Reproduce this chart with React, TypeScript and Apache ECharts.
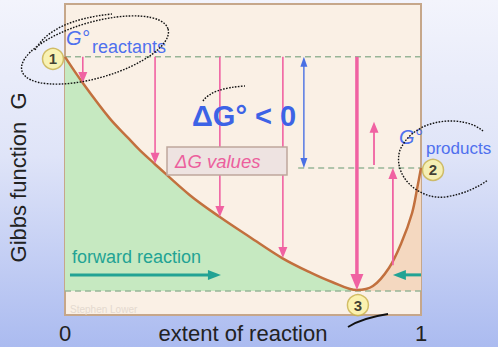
import React, { useEffect, useRef } from "react";
import * as echarts from "echarts";

const FONT = "'Liberation Sans', Arial, Helvetica, sans-serif";

// Gibbs function along the reaction path (extent 0 = pure reactants, 1 = pure products)
const extent = [0, 0.05, 0.125, 0.175, 0.21, 0.25, 0.35, 0.435, 0.52, 0.61, 0.69, 0.75, 0.82, 0.865, 0.91, 0.945, 0.975, 0.99, 1];
const gibbs = [83, 74.6, 63.3, 57.2, 53.0, 48.8, 38.6, 31.5, 25.0, 18.3, 13.6, 10.6, 8.0, 9.3, 15.1, 23.2, 32.8, 41.2, 47.3];
const equilibriumIndex = 12;

const gReactants = 83;
const gProducts = 47.3;
const gBaseline = 7.7;
const productsLineStart = 0.655;

// ΔG values: drops from G°reactants to the curve
const dgArrowX = [0.05, 0.253, 0.435, 0.612];
const dgArrowEnd = [74.6, 48.6, 31.5, 18.3];
const eqArrowX = 0.82;
const eqArrowEnd = 8.0;

// rises from the curve towards G°products
const upArrowX = [0.868, 0.921];
const upArrowFrom = [48.2, 16.0];
const upArrowTo = [62.1, 47.3];

// ΔG° span
const dg0ArrowX = 0.671;

// direction of spontaneous change
const flowG = 12.9;
const forwardFrom = 0.014;
const forwardTo = 0.438;
const reverseFrom = 1.0;
const reverseTo = 0.921;

// numbered states: pure reactants, pure products, equilibrium
const stateLabels = ["1", "2", "3"];
const stateX = [0, 1, 0.82];
const stateG = [83, 47.3, 8.0];

const xTickValues = [0, 1];

// hand-drawn pen marks
echarts.graphic.registerShape(
  "penLoopReactants",
  echarts.graphic.extendPath(
    "M168.06 29.05 C172.32 43.92 143.07 65.35 102.72 76.92 C62.37 88.49 26.2 85.82 21.94 70.95 C17.68 56.08 46.93 34.65 87.28 23.08 C127.63 11.51 163.8 14.18 168.06 29.05 M35 50 Q52 20 112 14",
    {}
  )
);
echarts.graphic.registerShape(
  "penLoopProducts",
  echarts.graphic.extendPath(
    "M483 131 C465 115 415 116 400 150 C392 175 418 200 445 197 C465 194 478 187 488 180",
    {}
  )
);
echarts.graphic.registerShape("penTickDG", echarts.graphic.extendPath("M203 101 Q212 88 245 86", {}));
echarts.graphic.registerShape("penTickEq", echarts.graphic.extendPath("M348 327 Q362 318 388 314", {}));

type ArrowOpts = { color: string; width: number; head: [number, number]; both?: boolean };

function arrowRenderer(opts: ArrowOpts) {
  return (_params: any, api: any) => {
    const p1 = api.coord([api.value(0), api.value(1)]);
    const p2 = api.coord([api.value(2), api.value(3)]);
    const dx = p2[0] - p1[0];
    const dy = p2[1] - p1[1];
    const len = Math.hypot(dx, dy) || 1;
    const ux = dx / len;
    const uy = dy / len;
    const nx = -uy;
    const ny = ux;
    const [hl, hw] = opts.head;
    const head = (tip: number[], dx1: number, dy1: number) => ({
      type: "polygon",
      shape: {
        points: [
          [tip[0], tip[1]],
          [tip[0] - dx1 * hl + (nx * hw) / 2, tip[1] - dy1 * hl + (ny * hw) / 2],
          [tip[0] - dx1 * hl - (nx * hw) / 2, tip[1] - dy1 * hl - (ny * hw) / 2],
        ],
      },
      style: { fill: opts.color },
    });
    const start = opts.both ? [p1[0] + ux * hl * 0.8, p1[1] + uy * hl * 0.8] : p1;
    const end = [p2[0] - ux * hl * 0.8, p2[1] - uy * hl * 0.8];
    const children: any[] = [
      {
        type: "line",
        shape: { x1: start[0], y1: start[1], x2: end[0], y2: end[1] },
        style: { stroke: opts.color, lineWidth: opts.width },
      },
      head(p2, ux, uy),
    ];
    if (opts.both) children.push(head(p1, -ux, -uy));
    return { type: "group", children };
  };
}

const PINK = "#f062a2";
const TEAL = "#22a394";
const BLUE = "#3d63e6";

export default function App() {
  const ref = useRef<HTMLDivElement>(null);

  useEffect(() => {
    if (!ref.current) return;
    const chart = echarts.init(ref.current, undefined, { renderer: "svg" });

    const curve = extent.map((x, i) => [x, gibbs[i]]);
    const leftPart = curve.slice(0, equilibriumIndex + 1);
    const rightPart = curve.slice(equilibriumIndex);

    const dashed = (name: string, data: number[][]) => ({
      name,
      type: "line",
      data,
      showSymbol: false,
      silent: true,
      z: 3,
      lineStyle: { color: "#98b598", width: 1.5, type: [6, 4] },
    });

    const arrowSeries = (name: string, data: number[][], opts: ArrowOpts, z = 5) => ({
      name,
      type: "custom",
      data,
      encode: { x: [0, 2], y: [1, 3] },
      renderItem: arrowRenderer(opts),
      silent: true,
      z,
    });

    const markerOffsets = [
      [-12, 2],
      [12, 2],
      [1, 15],
    ];

    const option: any = {
      animation: false,
      backgroundColor: new echarts.graphic.LinearGradient(0, 0, 0, 1, [
        { offset: 0, color: "#f3f4fc" },
        { offset: 0.45, color: "#dfe4f8" },
        { offset: 1, color: "#abbbf0" },
      ]),
      grid: {
        left: 65,
        right: 77,
        top: 4,
        bottom: 32,
        show: true,
        outerBoundsMode: "none",
        containLabel: false,
        backgroundColor: "#faf0e5",
        borderColor: "#c6a78a",
        borderWidth: 2,
      },
      xAxis: {
        type: "value",
        min: 0,
        max: 1,
        interval: 1,
        axisLine: { show: false },
        axisTick: { show: false },
        splitLine: { show: false },
        axisLabel: {
          fontSize: 22,
          fontFamily: FONT,
          color: "#222",
          margin: 7,
          formatter: (v: number) => (xTickValues.includes(v) ? String(v) : ""),
        },
        name: "extent of reaction",
        nameLocation: "middle",
        nameGap: 7,
        nameMoveOverlap: false,
        nameTextStyle: { fontSize: 22, fontFamily: FONT, color: "#222" },
      },
      yAxis: {
        type: "value",
        min: 0,
        max: 100,
        axisLine: { show: false },
        axisTick: { show: false },
        splitLine: { show: false },
        axisLabel: { show: false },
        name: "Gibbs function  G",
        nameLocation: "middle",
        nameRotate: 90,
        nameGap: 36,
        nameMoveOverlap: false,
        nameTextStyle: { fontSize: 22, fontFamily: FONT, color: "#222", padding: [0, 36, 0, 0] },
      },
      series: [
        {
          name: "reactant side",
          type: "line",
          data: leftPart,
          smooth: 0.35,
          showSymbol: false,
          silent: true,
          lineStyle: { width: 0 },
          areaStyle: { color: "#c6e9c1", opacity: 1, origin: gBaseline },
          z: 1,
        },
        {
          name: "product side",
          type: "line",
          data: rightPart,
          smooth: 0.35,
          showSymbol: false,
          silent: true,
          lineStyle: { width: 0 },
          areaStyle: { color: "#f4d8c0", opacity: 1, origin: gBaseline },
          z: 1,
        },
        dashed("G°reactants", [
          [0, gReactants],
          [1, gReactants],
        ]),
        dashed("G°products", [
          [productsLineStart, gProducts],
          [1, gProducts],
        ]),
        dashed("baseline", [
          [0, gBaseline],
          [1, gBaseline],
        ]),
        {
          name: "G",
          type: "line",
          data: curve,
          smooth: 0.35,
          showSymbol: false,
          silent: true,
          lineStyle: { color: "#c2703e", width: 2.5 },
          z: 4,
        },
        arrowSeries(
          "ΔG",
          dgArrowX.map((x, i) => [x, gReactants, x, dgArrowEnd[i]]),
          { color: PINK, width: 1.6, head: [11, 9] }
        ),
        arrowSeries("ΔG equilibrium", [[eqArrowX, gReactants, eqArrowX, eqArrowEnd]], {
          color: PINK,
          width: 3.5,
          head: [16, 13],
        }),
        arrowSeries(
          "rise",
          upArrowX.map((x, i) => [x, upArrowFrom[i], x, upArrowTo[i]]),
          { color: PINK, width: 1.8, head: [11, 9] }
        ),
        arrowSeries("ΔG°", [[dg0ArrowX, gReactants, dg0ArrowX, gProducts]], {
          color: "#4a70e4",
          width: 1.4,
          head: [10, 7],
          both: true,
        }),
        arrowSeries(
          "flow",
          [
            [forwardFrom, flowG, forwardTo, flowG],
            [reverseFrom, flowG, reverseTo, flowG],
          ],
          { color: TEAL, width: 3, head: [13, 10] }
        ),
        {
          name: "states",
          type: "scatter",
          clip: false,
          silent: true,
          z: 8,
          symbol: "circle",
          symbolSize: 21,
          itemStyle: { color: "#fbf3a2", borderColor: "#c8b04c", borderWidth: 1.5 },
          label: {
            show: true,
            position: "inside",
            formatter: "{b}",
            fontFamily: FONT,
            fontWeight: "bold",
            fontSize: 15,
            color: "#111",
          },
          data: stateLabels.map((name, i) => ({
            name,
            value: [stateX[i], stateG[i]],
            symbolOffset: markerOffsets[i],
          })),
        },
      ],
      graphic: [
        {
          type: "text",
          x: 66,
          y: 38,
          z: 20,
          style: {
            text: "G°",
            fontFamily: FONT,
            fontSize: 20,
            fontStyle: "italic",
            fill: "#4f70ee",
            align: "left",
            verticalAlign: "middle",
          },
        },
        {
          type: "text",
          x: 92,
          y: 47,
          z: 20,
          style: { text: "reactants", fontFamily: FONT, fontSize: 18, fill: "#4f70ee", align: "left", verticalAlign: "middle" },
        },
        {
          type: "text",
          x: 399,
          y: 137,
          z: 20,
          style: {
            text: "G°",
            fontFamily: FONT,
            fontSize: 20,
            fontStyle: "italic",
            fill: "#4f70ee",
            align: "left",
            verticalAlign: "middle",
          },
        },
        {
          type: "text",
          x: 426,
          y: 148,
          z: 20,
          style: { text: "products", fontFamily: FONT, fontSize: 17, fill: "#4f70ee", align: "left", verticalAlign: "middle" },
        },
        {
          type: "text",
          x: 192,
          y: 116,
          z: 20,
          style: {
            text: "ΔG° < 0",
            fontFamily: FONT,
            fontSize: 29,
            fontWeight: "bold",
            fill: BLUE,
            align: "left",
            verticalAlign: "middle",
          },
        },
        {
          type: "rect",
          z: 20,
          shape: { x: 167, y: 147, width: 120, height: 28 },
          style: { fill: "#eee3e1", stroke: "#bea79c", lineWidth: 1.5 },
        },
        {
          type: "text",
          x: 175,
          y: 161,
          z: 21,
          style: {
            text: "ΔG values",
            fontFamily: FONT,
            fontSize: 18.5,
            fontStyle: "italic",
            fill: "#ec5f9d",
            align: "left",
            verticalAlign: "middle",
          },
        },
        {
          type: "text",
          x: 72,
          y: 257,
          z: 20,
          style: { text: "forward reaction", fontFamily: FONT, fontSize: 18, fill: TEAL, align: "left", verticalAlign: "middle" },
        },
        {
          type: "text",
          x: 70,
          y: 309,
          z: 20,
          style: { text: "Stephen Lower", fontFamily: FONT, fontSize: 10, fill: "#e4d9cf", align: "left", verticalAlign: "middle" },
        },
        {
          type: "penLoopReactants",
          x: 0,
          y: 0,
          z: 30,
          style: { fill: "none", stroke: "#111", lineWidth: 1.4, lineDash: [1.6, 1.4] },
        },
        {
          type: "penLoopProducts",
          x: 0,
          y: 0,
          z: 30,
          style: { fill: "none", stroke: "#111", lineWidth: 1.4, lineDash: [1.6, 1.4] },
        },
        {
          type: "penTickDG",
          x: 0,
          y: 0,
          z: 30,
          style: { fill: "none", stroke: "#111", lineWidth: 1.4, lineDash: [1.6, 1.4] },
        },
        {
          type: "penTickEq",
          x: 0,
          y: 0,
          z: 30,
          style: { fill: "none", stroke: "#111", lineWidth: 1.8 },
        },
      ],
    };

    chart.setOption(option);
    return () => chart.dispose();
  }, []);

  return <div ref={ref} style={{ position: "absolute", left: 0, top: 0, width: 498, height: 347 }} />;
}
